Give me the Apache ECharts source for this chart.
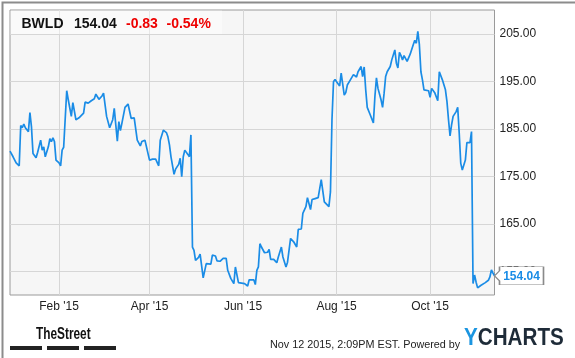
<!DOCTYPE html>
<html><head><meta charset="utf-8">
<script src="https://cdn.jsdelivr.net/npm/echarts@6/dist/echarts.min.js"></script>
<style>html,body{margin:0;padding:0;background:#fff}#c{width:575px;height:358px}</style>
</head><body><div id="c"></div>
<script>
const ticker = 'BWLD';
const lastPrice = '154.04';
const change = '-0.83';
const changePct = '-0.54%';
const footerText = 'Nov 12 2015, 2:09PM EST. Powered by';
const yTicks = [155, 165, 175, 185, 195, 205];
const xTicks = ['2015-02-01', '2015-04-01', '2015-06-01', '2015-08-01', '2015-10-01'];
const xStart = '2014-12-31';
const xEnd = '2015-11-12';
const monthNames = ['Jan','Feb','Mar','Apr','May','Jun','Jul','Aug','Sep','Oct','Nov','Dec'];

const dates = [
'2014-12-31','2015-01-02','2015-01-04','2015-01-06','2015-01-07','2015-01-08','2015-01-09','2015-01-10','2015-01-12','2015-01-13',
'2015-01-14','2015-01-15','2015-01-17','2015-01-18','2015-01-20','2015-01-21','2015-01-22','2015-01-23','2015-01-25','2015-01-26',
'2015-01-27','2015-01-28','2015-01-29','2015-01-30','2015-02-01','2015-02-02','2015-02-03','2015-02-04','2015-02-05','2015-02-06',
'2015-02-07','2015-02-09','2015-02-10','2015-02-11','2015-02-12','2015-02-14','2015-02-17','2015-02-18','2015-02-19','2015-02-20',
'2015-02-22','2015-02-24','2015-02-25','2015-02-27','2015-03-01','2015-03-02','2015-03-04','2015-03-05','2015-03-06','2015-03-08',
'2015-03-09','2015-03-10','2015-03-11','2015-03-12','2015-03-13','2015-03-14','2015-03-16','2015-03-17','2015-03-18','2015-03-20',
'2015-03-21','2015-03-22','2015-03-23','2015-03-24','2015-03-26','2015-03-27','2015-03-29','2015-03-30','2015-04-01','2015-04-03',
'2015-04-05','2015-04-07','2015-04-08','2015-04-09','2015-04-10','2015-04-12','2015-04-13','2015-04-14','2015-04-15','2015-04-17',
'2015-04-18','2015-04-20','2015-04-21','2015-04-22','2015-04-23','2015-04-24','2015-04-25','2015-04-26','2015-04-27','2015-04-28',
'2015-04-29','2015-04-30','2015-05-01','2015-05-03','2015-05-04','2015-05-06','2015-05-08','2015-05-09','2015-05-11','2015-05-12',
'2015-05-13','2015-05-14','2015-05-15','2015-05-17','2015-05-18','2015-05-19','2015-05-21','2015-05-22','2015-05-24','2015-05-26',
'2015-05-27','2015-05-29','2015-05-31','2015-06-02','2015-06-04','2015-06-05','2015-06-06','2015-06-08','2015-06-09','2015-06-10',
'2015-06-11','2015-06-12','2015-06-13','2015-06-15','2015-06-17','2015-06-18','2015-06-19','2015-06-21','2015-06-22','2015-06-23',
'2015-06-24','2015-06-26','2015-06-27','2015-06-29','2015-06-30','2015-07-02','2015-07-04','2015-07-06','2015-07-07','2015-07-09',
'2015-07-10','2015-07-12','2015-07-13','2015-07-15','2015-07-16','2015-07-18','2015-07-20','2015-07-22','2015-07-24','2015-07-25',
'2015-07-27','2015-07-28','2015-07-29','2015-07-30','2015-07-31','2015-08-01','2015-08-03','2015-08-04','2015-08-06','2015-08-07',
'2015-08-08','2015-08-10','2015-08-11','2015-08-12','2015-08-14','2015-08-15','2015-08-17','2015-08-18','2015-08-19','2015-08-20',
'2015-08-21','2015-08-23','2015-08-25','2015-08-26','2015-08-27','2015-08-28','2015-08-30','2015-08-31','2015-09-01','2015-09-02',
'2015-09-03','2015-09-04','2015-09-05','2015-09-06','2015-09-08','2015-09-09','2015-09-10','2015-09-11','2015-09-12','2015-09-13',
'2015-09-14','2015-09-16','2015-09-17','2015-09-18','2015-09-20','2015-09-21','2015-09-22','2015-09-23','2015-09-24','2015-09-25',
'2015-09-26','2015-09-27','2015-09-28','2015-09-30','2015-10-01','2015-10-02','2015-10-03','2015-10-04','2015-10-06','2015-10-07',
'2015-10-09','2015-10-11','2015-10-12','2015-10-13','2015-10-14','2015-10-15','2015-10-16','2015-10-18','2015-10-19','2015-10-20',
'2015-10-21','2015-10-22','2015-10-23','2015-10-24','2015-10-25','2015-10-26','2015-10-27','2015-10-28','2015-10-29','2015-10-30',
'2015-10-31','2015-11-01','2015-11-03','2015-11-04','2015-11-06','2015-11-08','2015-11-09','2015-11-10','2015-11-11','2015-11-12'
];
const prices = [
180.3,179.1,177.8,177.2,185.7,185.2,186.0,185.2,184.4,188.4,
185.4,179.8,178.9,180.0,182.6,180.5,181.2,179.1,181.2,182.9,
182.3,183.1,182.3,178.4,177.8,177.2,180.5,181.1,180.7,193.0,
191.1,187.6,190.5,190.2,186.9,187.3,188.3,190.6,190.7,190.4,
190.9,191.3,192.3,191.2,191.9,192.5,187.6,187.2,185.2,186.9,
189.3,185.8,182.4,186.5,184.6,186.2,189.5,189.7,190.2,187.2,
187.1,187.3,186.9,182.6,181.4,182.3,182.6,182.9,178.4,178.6,
178.6,177.2,182.6,183.0,184.7,184.2,183.3,181.6,179.1,175.4,
176.5,177.5,178.8,174.9,179.1,180.5,180.2,179.6,179.1,183.7,
160.1,159.4,157.3,157.9,158.6,153.6,156.6,156.5,156.5,158.4,
158.0,158.2,157.2,157.1,157.3,157.7,157.7,155.2,153.5,152.4,
155.9,152.6,152.5,152.4,151.9,153.2,153.3,153.2,152.2,155.2,
155.9,160.8,160.1,158.9,159.0,159.6,157.5,157.5,157.7,156.8,
158.0,160.1,158.0,155.9,156.9,161.9,161.2,160.1,163.8,163.9,
167.2,168.6,170.5,168.0,170.1,170.3,170.5,174.3,169.6,169.3,
168.6,171.7,186.9,194.9,195.4,194.9,194.0,196.7,192.1,192.6,
194.2,195.3,195.4,196.4,195.9,197.0,198.1,196.0,198.0,193.2,
189.5,187.9,186.2,191.8,195.7,193.5,191.1,189.5,192.5,196.0,
197.0,196.7,198.1,199.5,201.6,198.8,197.8,201.1,200.4,199.5,
200.4,199.2,199.5,200.7,202.7,203.6,203.0,205.5,202.7,197.0,
195.3,193.2,193.3,193.0,191.6,193.5,193.2,192.6,190.9,197.0,
195.3,193.2,190.7,186.9,183.5,185.8,187.6,188.6,189.5,184.0,
177.7,176.3,176.2,178.4,182.1,182.3,182.1,184.4,152.4,154.2,
152.7,151.5,152.0,151.9,152.6,153.1,153.8,155.3,154.6,154.04
];

const toTs = s => new Date(s + 'T00:00:00').getTime();
const seriesData = dates.map((d, i) => [toTs(d), prices[i]]);
const chart = echarts.init(document.getElementById('c'), null, {renderer: 'canvas'});
const FONT = 'Liberation Sans, Arial, sans-serif';
const titleStyle = (t, c) => ({text: t, fontSize: 14, fontWeight: 'bold', fill: c, fontFamily: FONT, verticalAlign: 'middle'});

chart.setOption({
  animation: false,
  backgroundColor: '#ffffff',
  grid: {
    left: 10, top: 10, width: 484.5, height: 285,
    show: true, backgroundColor: '#f6f6f6', borderColor: '#9a9a9a', borderWidth: 1
  },
  xAxis: {
    type: 'value',
    min: toTs(xStart), max: toTs(xEnd),
    axisLine: {show: false},
    axisTick: {show: false, customValues: xTicks.map(toTs)},
    splitLine: {show: true, lineStyle: {color: '#d6d6d6', width: 1}},
    axisLabel: {
      customValues: xTicks.map(toTs),
      color: '#222', fontSize: 12, fontFamily: FONT, margin: 6,
      formatter: v => { const d = new Date(v); return monthNames[d.getMonth()] + " '" + String(d.getFullYear()).slice(2); }
    }
  },
  yAxis: {
    type: 'value', position: 'right',
    min: 150, max: 210,
    axisLine: {show: false},
    axisTick: {show: false, customValues: yTicks},
    splitLine: {show: true, lineStyle: {color: '#d6d6d6', width: 1}},
    axisLabel: {
      customValues: yTicks,
      color: '#222', fontSize: 12, fontFamily: FONT, margin: 5,
      formatter: v => v.toFixed(2)
    }
  },
  series: [{
    type: 'line',
    data: seriesData,
    showSymbol: false,
    lineStyle: {color: '#1a8ce6', width: 1.7},
    itemStyle: {color: '#1a8ce6'},
    z: 3,
    markPoint: {
      symbol: 'path://M0,9 L5,4 L5,0 L49,0 L49,18 L5,18 L5,14 Z',
      symbolSize: [49, 18],
      symbolOffset: [24.5, 0],
      itemStyle: {color: '#ffffff', borderColor: '#8a8a8a', borderWidth: 1},
      label: {
        show: true, position: 'inside', offset: [2.5, 0.5],
        formatter: lastPrice, color: '#1a8ce6', fontWeight: 'bold', fontSize: 12, fontFamily: FONT
      },
      z: 10,
      data: [{coord: [toTs(dates[dates.length - 1]), prices[prices.length - 1]]}]
    }
  }],
  graphic: [
    {type: 'rect', left: 0, top: 0, z: 100, silent: true,
     shape: {x: 0, y: 0, width: 574, height: 357},
     style: {fill: 'none', stroke: '#8c8c8c', lineWidth: 2}},
    {type: 'rect', z: 50, silent: true,
     shape: {x: 10.5, y: 10.5, width: 211.5, height: 23.5},
     style: {fill: 'rgba(255,255,255,0.45)'}},
    {type: 'text', z: 51, x: 21.5, y: 24.5, silent: true, style: titleStyle(ticker, '#111')},
    {type: 'text', z: 51, x: 74, y: 24.5, silent: true, style: titleStyle(lastPrice, '#111')},
    {type: 'text', z: 51, x: 126, y: 24.5, silent: true, style: titleStyle(change, '#ee0000')},
    {type: 'text', z: 51, x: 166.5, y: 24.5, silent: true, style: titleStyle(changePct, '#ee0000')},
    {type: 'text', z: 51, x: 36, y: 335, scaleX: 0.74, silent: true,
     style: {text: 'TheStreet', fontSize: 16, fontWeight: 'bold', fill: '#111', fontFamily: FONT, verticalAlign: 'middle'}},
    {type: 'rect', z: 51, silent: true, shape: {x: 10, y: 346, width: 32, height: 4}, style: {fill: '#222'}},
    {type: 'rect', z: 51, silent: true, shape: {x: 47, y: 346, width: 32, height: 4}, style: {fill: '#222'}},
    {type: 'rect', z: 51, silent: true, shape: {x: 84, y: 346, width: 32, height: 4}, style: {fill: '#222'}},
    {type: 'text', z: 51, x: 270, y: 345, silent: true,
     style: {text: footerText, fontSize: 10.8, fill: '#222', fontFamily: FONT, verticalAlign: 'middle'}},
    {type: 'text', z: 51, x: 464, y: 338, silent: true, scaleX: 0.86,
     style: {
       text: '{y|Y}{c|CHARTS}', verticalAlign: 'middle',
       rich: {
         y: {fontSize: 24, fontWeight: 'bold', fill: '#1b95e0', fontFamily: FONT},
         c: {fontSize: 24, fontWeight: 'bold', fill: '#1e2b38', fontFamily: FONT}
       }
     }}
  ]
});
</script>
</body></html>
